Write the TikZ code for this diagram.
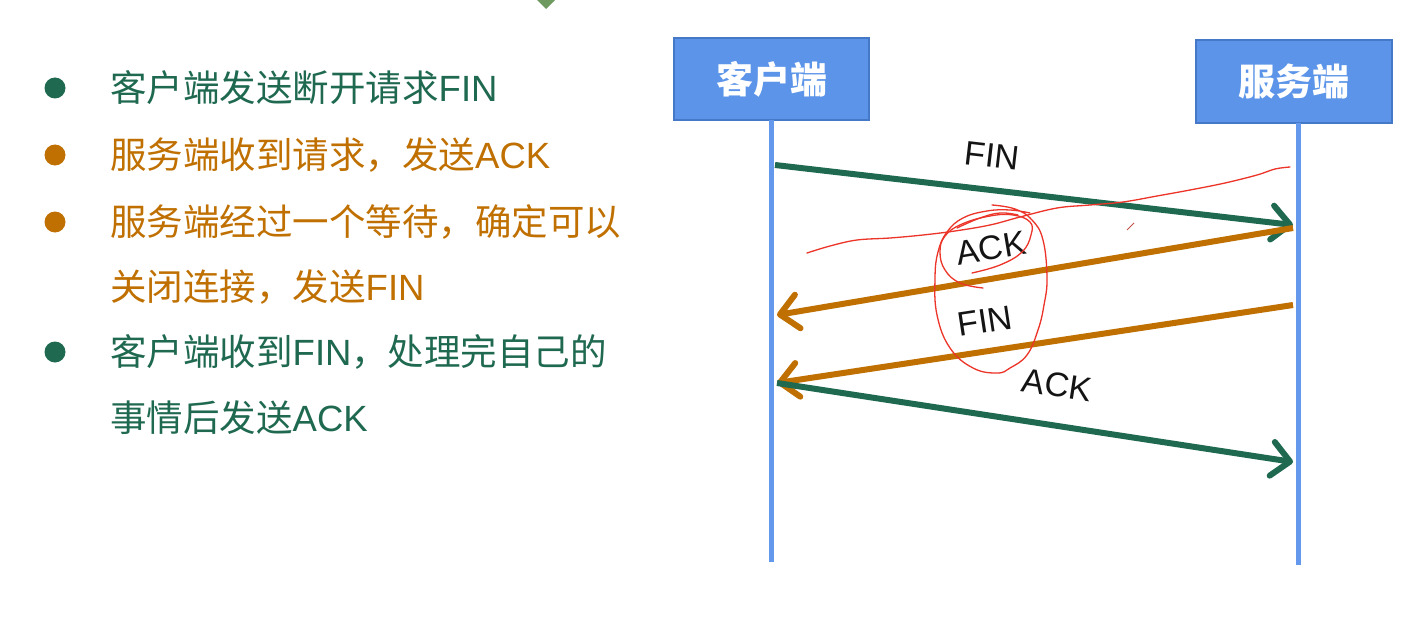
\documentclass[tikz,border=0pt]{standalone}
\usepackage{fontspec}
\setmainfont{Liberation Sans}
\newfontfamily\cjk{Noto Sans CJK SC}
\usetikzlibrary{arrows.meta}
\definecolor{boxblue}{RGB}{91,148,232}
\definecolor{boxedge}{RGB}{70,120,200}
\definecolor{lifeblue}{RGB}{100,152,236}
\definecolor{tgreen}{RGB}{31,105,80}
\definecolor{torange}{RGB}{191,112,0}
\definecolor{penred}{RGB}{236,52,40}
\definecolor{diag}{RGB}{110,154,96}
\begin{document}
\begin{tikzpicture}[x=1pt,y=-1pt,
  box/.style={draw=boxedge, fill=boxblue, line width=1.2pt, minimum width=195pt, minimum height=82pt, text=white, font=\cjk\bfseries\fontsize{37}{40}\selectfont, inner sep=0},
  life/.style={draw=lifeblue, line width=5pt},
  msg/.style={line width=6pt, -{Straight Barb[length=18pt,width=34pt,round]}},
  lbl/.style={font=\fontsize{34}{40}\selectfont, text=black!92, inner sep=0},
  btext/.style={anchor=west, font=\fontsize{36.5}{40}\selectfont, inner sep=0},
  dot/.style={circle, minimum size=21pt, inner sep=0},
  pen/.style={draw=penred, line width=1.3pt, line cap=round, line join=round}
]
\useasboundingbox (0,0) rectangle (1405,623);
\fill[white] (0,0) rectangle (1405,623);
% top diamond
\fill[diag] (546,-9) -- (555,0) -- (546,9) -- (537,0) -- cycle;
% bullets
\node[dot, fill=tgreen]   (b1) at (55,88)  {};
\node[dot, fill=torange]  (b2) at (55,155) {};
\node[dot, fill=torange]  (b3) at (55,222) {};
\node[dot, fill=tgreen]   (b4) at (55,352) {};
\node[btext, text=tgreen]  (t1) at (110,88)  {{\cjk 客户端发送断开请求}FIN};
\node[btext, text=torange] (t2) at (110,155) {{\cjk 服务端收到请求，发送}ACK};
\node[btext, text=torange] (t3) at (110,222) {{\cjk 服务端经过一个等待，确定可以}};
\node[btext, text=torange] (t3b) at (110,287) {{\cjk 关闭连接，发送}FIN};
\node[btext, text=tgreen]  (t4) at (110,352) {{\cjk 客户端收到}FIN{\cjk ，处理完自己的}};
\node[btext, text=tgreen]  (t4b) at (110,418) {{\cjk 事情后发送}ACK};
% boxes
\node[box] (cbox) at (771.5,79) {客户端};
\node[box, minimum height=83pt, minimum width=196pt] (sbox) at (1294,81.5) {服务端};
% lifelines
\coordinate (ctop) at (771,120);
\coordinate (cend) at (771,562);
\coordinate (stop) at (1298,123);
\coordinate (send) at (1298,565);
\draw[life] (ctop) -- (cend);
\draw[life] (stop) -- (send);
% message endpoints
\coordinate (m1a) at (775,165);
\coordinate (m1b) at (1293,225);
\coordinate (m2a) at (1293,228);
\coordinate (m2b) at (777,315);
\coordinate (m3a) at (1293,305);
\coordinate (m3b) at (777,383);
\coordinate (m4a) at (777,383);
\coordinate (m4b) at (1293,462);
\draw[msg, draw=tgreen]  (m1a) -- (m1b);
\draw[msg, draw=torange] (m2a) -- (m2b);
\draw[msg, draw=torange] (m3a) -- (m3b);
\draw[msg, draw=tgreen]  (m4a) -- (m4b);
% labels
\node[lbl, rotate=-6.6] (l1) at (992,156) {FIN};
\node[lbl, rotate=9.5]  (l2) at (991,248) {ACK};
\node[lbl, rotate=8.6]  (l3) at (985,321) {FIN};
\node[lbl, rotate=-8.7] (l4) at (1057,385) {ACK};
% red pen annotations
\draw[pen] plot[smooth, tension=0.6] coordinates {(807,253) (830,246) (857,240) (890,238) (923,235) (955,231) (990,225) (1020,217) (1057,208) (1090,205) (1123,202) (1157,196) (1190,190) (1225,183) (1257,175) (1275,169) (1290,167)};
\draw[pen] plot[smooth, tension=0.7] coordinates {(992,205) (1015,209) (1032,220) (1043,240) (1047,278) (1044,305) (1038,330) (1027,355) (1010,368) (997,373) (973,368) (950,348) (937,315) (935,278) (938,252) (947,232) (963,218) (987,211) (1010,210) (1030,213)};
\draw[pen] plot[smooth, tension=0.7] coordinates {(983,288) (960,283) (945,270) (940,252) (945,236) (962,224) (990,216) (1013,215) (1030,222) (1031,235) (1022,252) (1000,265) (972,273)};
\draw[pen] plot[smooth, tension=0.7] coordinates {(957,228) (980,218) (1000,213) (1018,215)};
\draw[penred!60!gray, line width=1pt] (1127,230) -- (1134,223);
\end{tikzpicture}
\end{document}
